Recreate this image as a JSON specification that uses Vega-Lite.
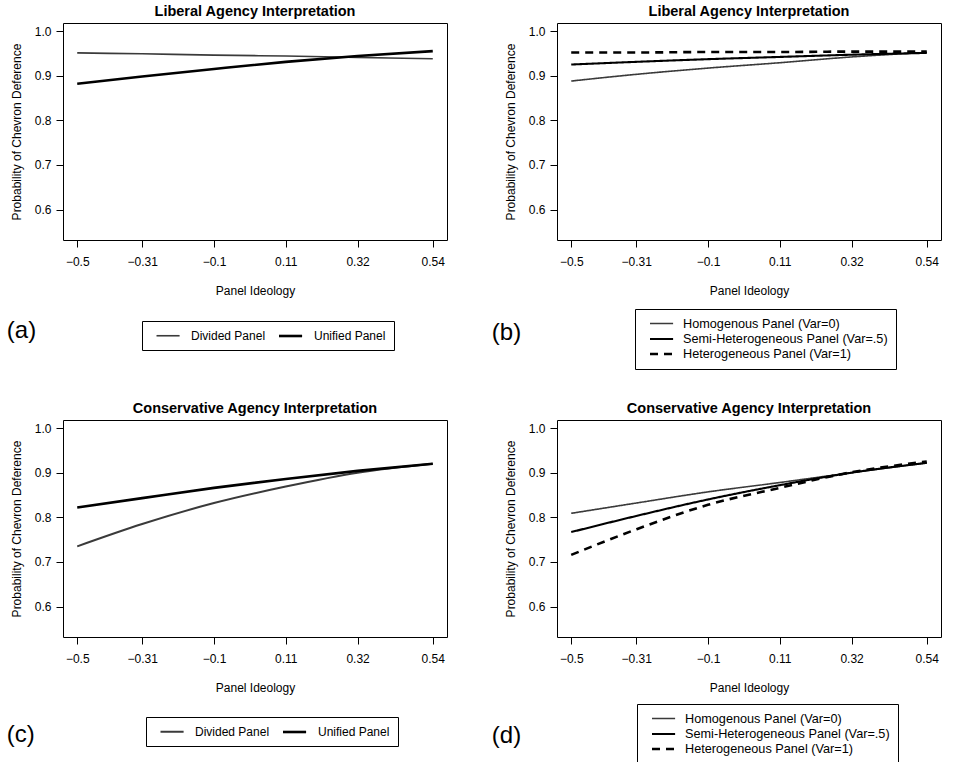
{
  "$schema": "https://vega.github.io/schema/vega-lite/v6.json",
  "background": "white",
  "padding": {"left": 6, "top": 3, "right": 5, "bottom": 0},
  "datasets": {
    "a": [
      {"s": "Divided Panel", "x": -0.5, "y": 0.951}, {"s": "Divided Panel", "x": -0.31, "y": 0.949}, {"s": "Divided Panel", "x": -0.1, "y": 0.946}, {"s": "Divided Panel", "x": 0.11, "y": 0.944}, {"s": "Divided Panel", "x": 0.32, "y": 0.941}, {"s": "Divided Panel", "x": 0.54, "y": 0.938},
      {"s": "Unified Panel", "x": -0.5, "y": 0.882}, {"s": "Unified Panel", "x": -0.31, "y": 0.898}, {"s": "Unified Panel", "x": -0.1, "y": 0.915}, {"s": "Unified Panel", "x": 0.11, "y": 0.931}, {"s": "Unified Panel", "x": 0.32, "y": 0.944}, {"s": "Unified Panel", "x": 0.54, "y": 0.955}
    ],
    "b": [
      {"s": "Homogenous Panel (Var=0)", "x": -0.5, "y": 0.888}, {"s": "Homogenous Panel (Var=0)", "x": -0.31, "y": 0.903}, {"s": "Homogenous Panel (Var=0)", "x": -0.1, "y": 0.917}, {"s": "Homogenous Panel (Var=0)", "x": 0.11, "y": 0.929}, {"s": "Homogenous Panel (Var=0)", "x": 0.32, "y": 0.942}, {"s": "Homogenous Panel (Var=0)", "x": 0.54, "y": 0.952},
      {"s": "Semi-Heterogeneous Panel (Var=.5)", "x": -0.5, "y": 0.925}, {"s": "Semi-Heterogeneous Panel (Var=.5)", "x": -0.31, "y": 0.931}, {"s": "Semi-Heterogeneous Panel (Var=.5)", "x": -0.1, "y": 0.937}, {"s": "Semi-Heterogeneous Panel (Var=.5)", "x": 0.11, "y": 0.942}, {"s": "Semi-Heterogeneous Panel (Var=.5)", "x": 0.32, "y": 0.947}, {"s": "Semi-Heterogeneous Panel (Var=.5)", "x": 0.54, "y": 0.951},
      {"s": "Heterogeneous Panel (Var=1)", "x": -0.5, "y": 0.952}, {"s": "Heterogeneous Panel (Var=1)", "x": -0.31, "y": 0.952}, {"s": "Heterogeneous Panel (Var=1)", "x": -0.1, "y": 0.953}, {"s": "Heterogeneous Panel (Var=1)", "x": 0.11, "y": 0.953}, {"s": "Heterogeneous Panel (Var=1)", "x": 0.32, "y": 0.954}, {"s": "Heterogeneous Panel (Var=1)", "x": 0.54, "y": 0.954}
    ],
    "c": [
      {"s": "Divided Panel", "x": -0.5, "y": 0.735}, {"s": "Divided Panel", "x": -0.31, "y": 0.785}, {"s": "Divided Panel", "x": -0.1, "y": 0.832}, {"s": "Divided Panel", "x": 0.11, "y": 0.869}, {"s": "Divided Panel", "x": 0.32, "y": 0.9}, {"s": "Divided Panel", "x": 0.54, "y": 0.92},
      {"s": "Unified Panel", "x": -0.5, "y": 0.822}, {"s": "Unified Panel", "x": -0.31, "y": 0.843}, {"s": "Unified Panel", "x": -0.1, "y": 0.866}, {"s": "Unified Panel", "x": 0.11, "y": 0.886}, {"s": "Unified Panel", "x": 0.32, "y": 0.904}, {"s": "Unified Panel", "x": 0.54, "y": 0.92}
    ],
    "d": [
      {"s": "Homogenous Panel (Var=0)", "x": -0.5, "y": 0.809}, {"s": "Homogenous Panel (Var=0)", "x": -0.31, "y": 0.832}, {"s": "Homogenous Panel (Var=0)", "x": -0.1, "y": 0.857}, {"s": "Homogenous Panel (Var=0)", "x": 0.11, "y": 0.878}, {"s": "Homogenous Panel (Var=0)", "x": 0.32, "y": 0.9}, {"s": "Homogenous Panel (Var=0)", "x": 0.54, "y": 0.922},
      {"s": "Semi-Heterogeneous Panel (Var=.5)", "x": -0.5, "y": 0.767}, {"s": "Semi-Heterogeneous Panel (Var=.5)", "x": -0.31, "y": 0.803}, {"s": "Semi-Heterogeneous Panel (Var=.5)", "x": -0.1, "y": 0.84}, {"s": "Semi-Heterogeneous Panel (Var=.5)", "x": 0.11, "y": 0.872}, {"s": "Semi-Heterogeneous Panel (Var=.5)", "x": 0.32, "y": 0.9}, {"s": "Semi-Heterogeneous Panel (Var=.5)", "x": 0.54, "y": 0.922},
      {"s": "Heterogeneous Panel (Var=1)", "x": -0.5, "y": 0.716}, {"s": "Heterogeneous Panel (Var=1)", "x": -0.31, "y": 0.773}, {"s": "Heterogeneous Panel (Var=1)", "x": -0.1, "y": 0.828}, {"s": "Heterogeneous Panel (Var=1)", "x": 0.11, "y": 0.866}, {"s": "Heterogeneous Panel (Var=1)", "x": 0.32, "y": 0.901}, {"s": "Heterogeneous Panel (Var=1)", "x": 0.54, "y": 0.925}
    ]
  },
  "columns": 2,
  "spacing": {"row": 30, "column": 43},
  "resolve": {
    "scale": {"x": "independent", "y": "independent", "color": "independent", "strokeWidth": "independent", "strokeDash": "independent"},
    "legend": {"color": "independent", "strokeWidth": "independent", "strokeDash": "independent"}
  },
  "concat": [
    {
      "title": {"text": "(a)", "orient": "bottom", "anchor": "start", "fontSize": 24, "fontWeight": "normal", "offset": -32, "dx": -3},
      "vconcat": [
        {
          "width": 384, "height": 217,
          "data": {"name": "a"},
          "title": {"text": "Liberal Agency Interpretation", "frame": "group"},
          "mark": {"type": "line", "interpolate": "monotone"},
          "encoding": {
            "x": {"field": "x", "type": "quantitative", "title": "Panel Ideology", "scale": {"domain": [-0.5416, 0.5816], "nice": false, "zero": false}, "axis": {"values": [-0.5, -0.31, -0.1, 0.11, 0.32, 0.54], "format": ".2~f"}},
            "y": {"field": "y", "type": "quantitative", "title": "Probability of Chevron Deference", "scale": {"domain": [0.532, 1.018], "nice": false, "zero": false}, "axis": {"values": [0.6, 0.7, 0.8, 0.9, 1.0], "format": ".1f"}},
            "color": {"field": "s", "type": "ordinal", "scale": {"domain": ["Divided Panel", "Unified Panel"], "range": ["#3a3a3a", "#000000"]}, "legend": {"title": null, "orient": "none", "legendX": 79, "legendY": 298, "direction": "horizontal"}},
            "strokeWidth": {"field": "s", "type": "ordinal", "scale": {"domain": ["Divided Panel", "Unified Panel"], "range": [1.6, 2.6]}, "legend": {"title": null, "orient": "none", "legendX": 79, "legendY": 298, "direction": "horizontal"}}
          }
        }
      ]
    },
    {
      "title": {"text": "(b)", "orient": "bottom", "anchor": "start", "fontSize": 24, "fontWeight": "normal", "offset": -49, "dx": -12},
      "vconcat": [
        {
          "width": 384, "height": 217,
          "data": {"name": "b"},
          "title": {"text": "Liberal Agency Interpretation", "frame": "group"},
          "mark": {"type": "line", "interpolate": "monotone"},
          "encoding": {
            "x": {"field": "x", "type": "quantitative", "title": "Panel Ideology", "scale": {"domain": [-0.5416, 0.5816], "nice": false, "zero": false}, "axis": {"values": [-0.5, -0.31, -0.1, 0.11, 0.32, 0.54], "format": ".2~f"}},
            "y": {"field": "y", "type": "quantitative", "title": "Probability of Chevron Deference", "scale": {"domain": [0.532, 1.018], "nice": false, "zero": false}, "axis": {"values": [0.6, 0.7, 0.8, 0.9, 1.0], "format": ".1f"}},
            "color": {"field": "s", "type": "ordinal", "scale": {"domain": ["Homogenous Panel (Var=0)", "Semi-Heterogeneous Panel (Var=.5)", "Heterogeneous Panel (Var=1)"], "range": ["#3a3a3a", "#000000", "#000000"]}, "legend": {"title": null, "orient": "none", "legendX": 78, "legendY": 286, "direction": "vertical", "labelFontSize": 12.7, "labelOffset": 26, "rowPadding": 1}},
            "strokeWidth": {"field": "s", "type": "ordinal", "scale": {"domain": ["Homogenous Panel (Var=0)", "Semi-Heterogeneous Panel (Var=.5)", "Heterogeneous Panel (Var=1)"], "range": [1.6, 2.6, 2.6]}, "legend": {"title": null, "orient": "none", "legendX": 78, "legendY": 286, "direction": "vertical", "labelFontSize": 12.7, "labelOffset": 26, "rowPadding": 1}},
            "strokeDash": {"field": "s", "type": "ordinal", "scale": {"domain": ["Homogenous Panel (Var=0)", "Semi-Heterogeneous Panel (Var=.5)", "Heterogeneous Panel (Var=1)"], "range": [[1, 0], [1, 0], [8, 6]]}, "legend": {"title": null, "orient": "none", "legendX": 78, "legendY": 286, "direction": "vertical", "labelFontSize": 12.7, "labelOffset": 26, "rowPadding": 1}}
          }
        }
      ]
    },
    {
      "title": {"text": "(c)", "orient": "bottom", "anchor": "start", "fontSize": 24, "fontWeight": "normal", "offset": -24, "dx": -3},
      "vconcat": [
        {
          "width": 384, "height": 217,
          "data": {"name": "c"},
          "title": {"text": "Conservative Agency Interpretation", "frame": "group"},
          "mark": {"type": "line", "interpolate": "monotone"},
          "encoding": {
            "x": {"field": "x", "type": "quantitative", "title": "Panel Ideology", "scale": {"domain": [-0.5416, 0.5816], "nice": false, "zero": false}, "axis": {"values": [-0.5, -0.31, -0.1, 0.11, 0.32, 0.54], "format": ".2~f"}},
            "y": {"field": "y", "type": "quantitative", "title": "Probability of Chevron Deference", "scale": {"domain": [0.532, 1.018], "nice": false, "zero": false}, "axis": {"values": [0.6, 0.7, 0.8, 0.9, 1.0], "format": ".1f"}},
            "color": {"field": "s", "type": "ordinal", "scale": {"domain": ["Divided Panel", "Unified Panel"], "range": ["#3a3a3a", "#000000"]}, "legend": {"title": null, "orient": "none", "legendX": 83, "legendY": 297, "direction": "horizontal"}},
            "strokeWidth": {"field": "s", "type": "ordinal", "scale": {"domain": ["Divided Panel", "Unified Panel"], "range": [2.0, 2.6]}, "legend": {"title": null, "orient": "none", "legendX": 83, "legendY": 297, "direction": "horizontal"}}
          }
        }
      ]
    },
    {
      "title": {"text": "(d)", "orient": "bottom", "anchor": "start", "fontSize": 24, "fontWeight": "normal", "offset": -41, "dx": -12},
      "vconcat": [
        {
          "width": 384, "height": 217,
          "data": {"name": "d"},
          "title": {"text": "Conservative Agency Interpretation", "frame": "group"},
          "mark": {"type": "line", "interpolate": "monotone"},
          "encoding": {
            "x": {"field": "x", "type": "quantitative", "title": "Panel Ideology", "scale": {"domain": [-0.5416, 0.5816], "nice": false, "zero": false}, "axis": {"values": [-0.5, -0.31, -0.1, 0.11, 0.32, 0.54], "format": ".2~f"}},
            "y": {"field": "y", "type": "quantitative", "title": "Probability of Chevron Deference", "scale": {"domain": [0.532, 1.018], "nice": false, "zero": false}, "axis": {"values": [0.6, 0.7, 0.8, 0.9, 1.0], "format": ".1f"}},
            "color": {"field": "s", "type": "ordinal", "scale": {"domain": ["Homogenous Panel (Var=0)", "Semi-Heterogeneous Panel (Var=.5)", "Heterogeneous Panel (Var=1)"], "range": ["#3a3a3a", "#000000", "#000000"]}, "legend": {"title": null, "orient": "none", "legendX": 80, "legendY": 284, "direction": "vertical", "labelFontSize": 12.7, "labelOffset": 26, "rowPadding": 1}},
            "strokeWidth": {"field": "s", "type": "ordinal", "scale": {"domain": ["Homogenous Panel (Var=0)", "Semi-Heterogeneous Panel (Var=.5)", "Heterogeneous Panel (Var=1)"], "range": [1.6, 2.6, 2.6]}, "legend": {"title": null, "orient": "none", "legendX": 80, "legendY": 284, "direction": "vertical", "labelFontSize": 12.7, "labelOffset": 26, "rowPadding": 1}},
            "strokeDash": {"field": "s", "type": "ordinal", "scale": {"domain": ["Homogenous Panel (Var=0)", "Semi-Heterogeneous Panel (Var=.5)", "Heterogeneous Panel (Var=1)"], "range": [[1, 0], [1, 0], [8, 6]]}, "legend": {"title": null, "orient": "none", "legendX": 80, "legendY": 284, "direction": "vertical", "labelFontSize": 12.7, "labelOffset": 26, "rowPadding": 1}}
          }
        }
      ]
    }
  ],
  "config": {
    "font": "Liberation Sans",
    "view": {"stroke": "black", "strokeWidth": 1},
    "axis": {"domain": false, "grid": false, "tickColor": "black", "tickSize": 7, "tickWidth": 1, "labelColor": "black", "labelFont": "Liberation Sans", "labelFontSize": 12, "titleColor": "black", "titleFont": "Liberation Sans", "titleFontSize": 12, "titleFontWeight": "normal", "labelOverlap": false, "labelFlush": false},
    "axisX": {"labelPadding": 9, "titlePadding": 18},
    "axisY": {"labelPadding": 5, "titlePadding": 11},
    "legend": {"labelFont": "Liberation Sans", "labelFontSize": 12, "labelColor": "black", "strokeColor": "black", "padding": 8, "symbolSize": 121, "symbolType": "M0,0H4.2", "labelOffset": 28, "columnPadding": 6, "rowPadding": 2, "labelLimit": 300},
    "title": {"font": "Liberation Sans", "fontSize": 14.5, "fontWeight": "bold", "color": "black", "offset": 4}
  }
}
